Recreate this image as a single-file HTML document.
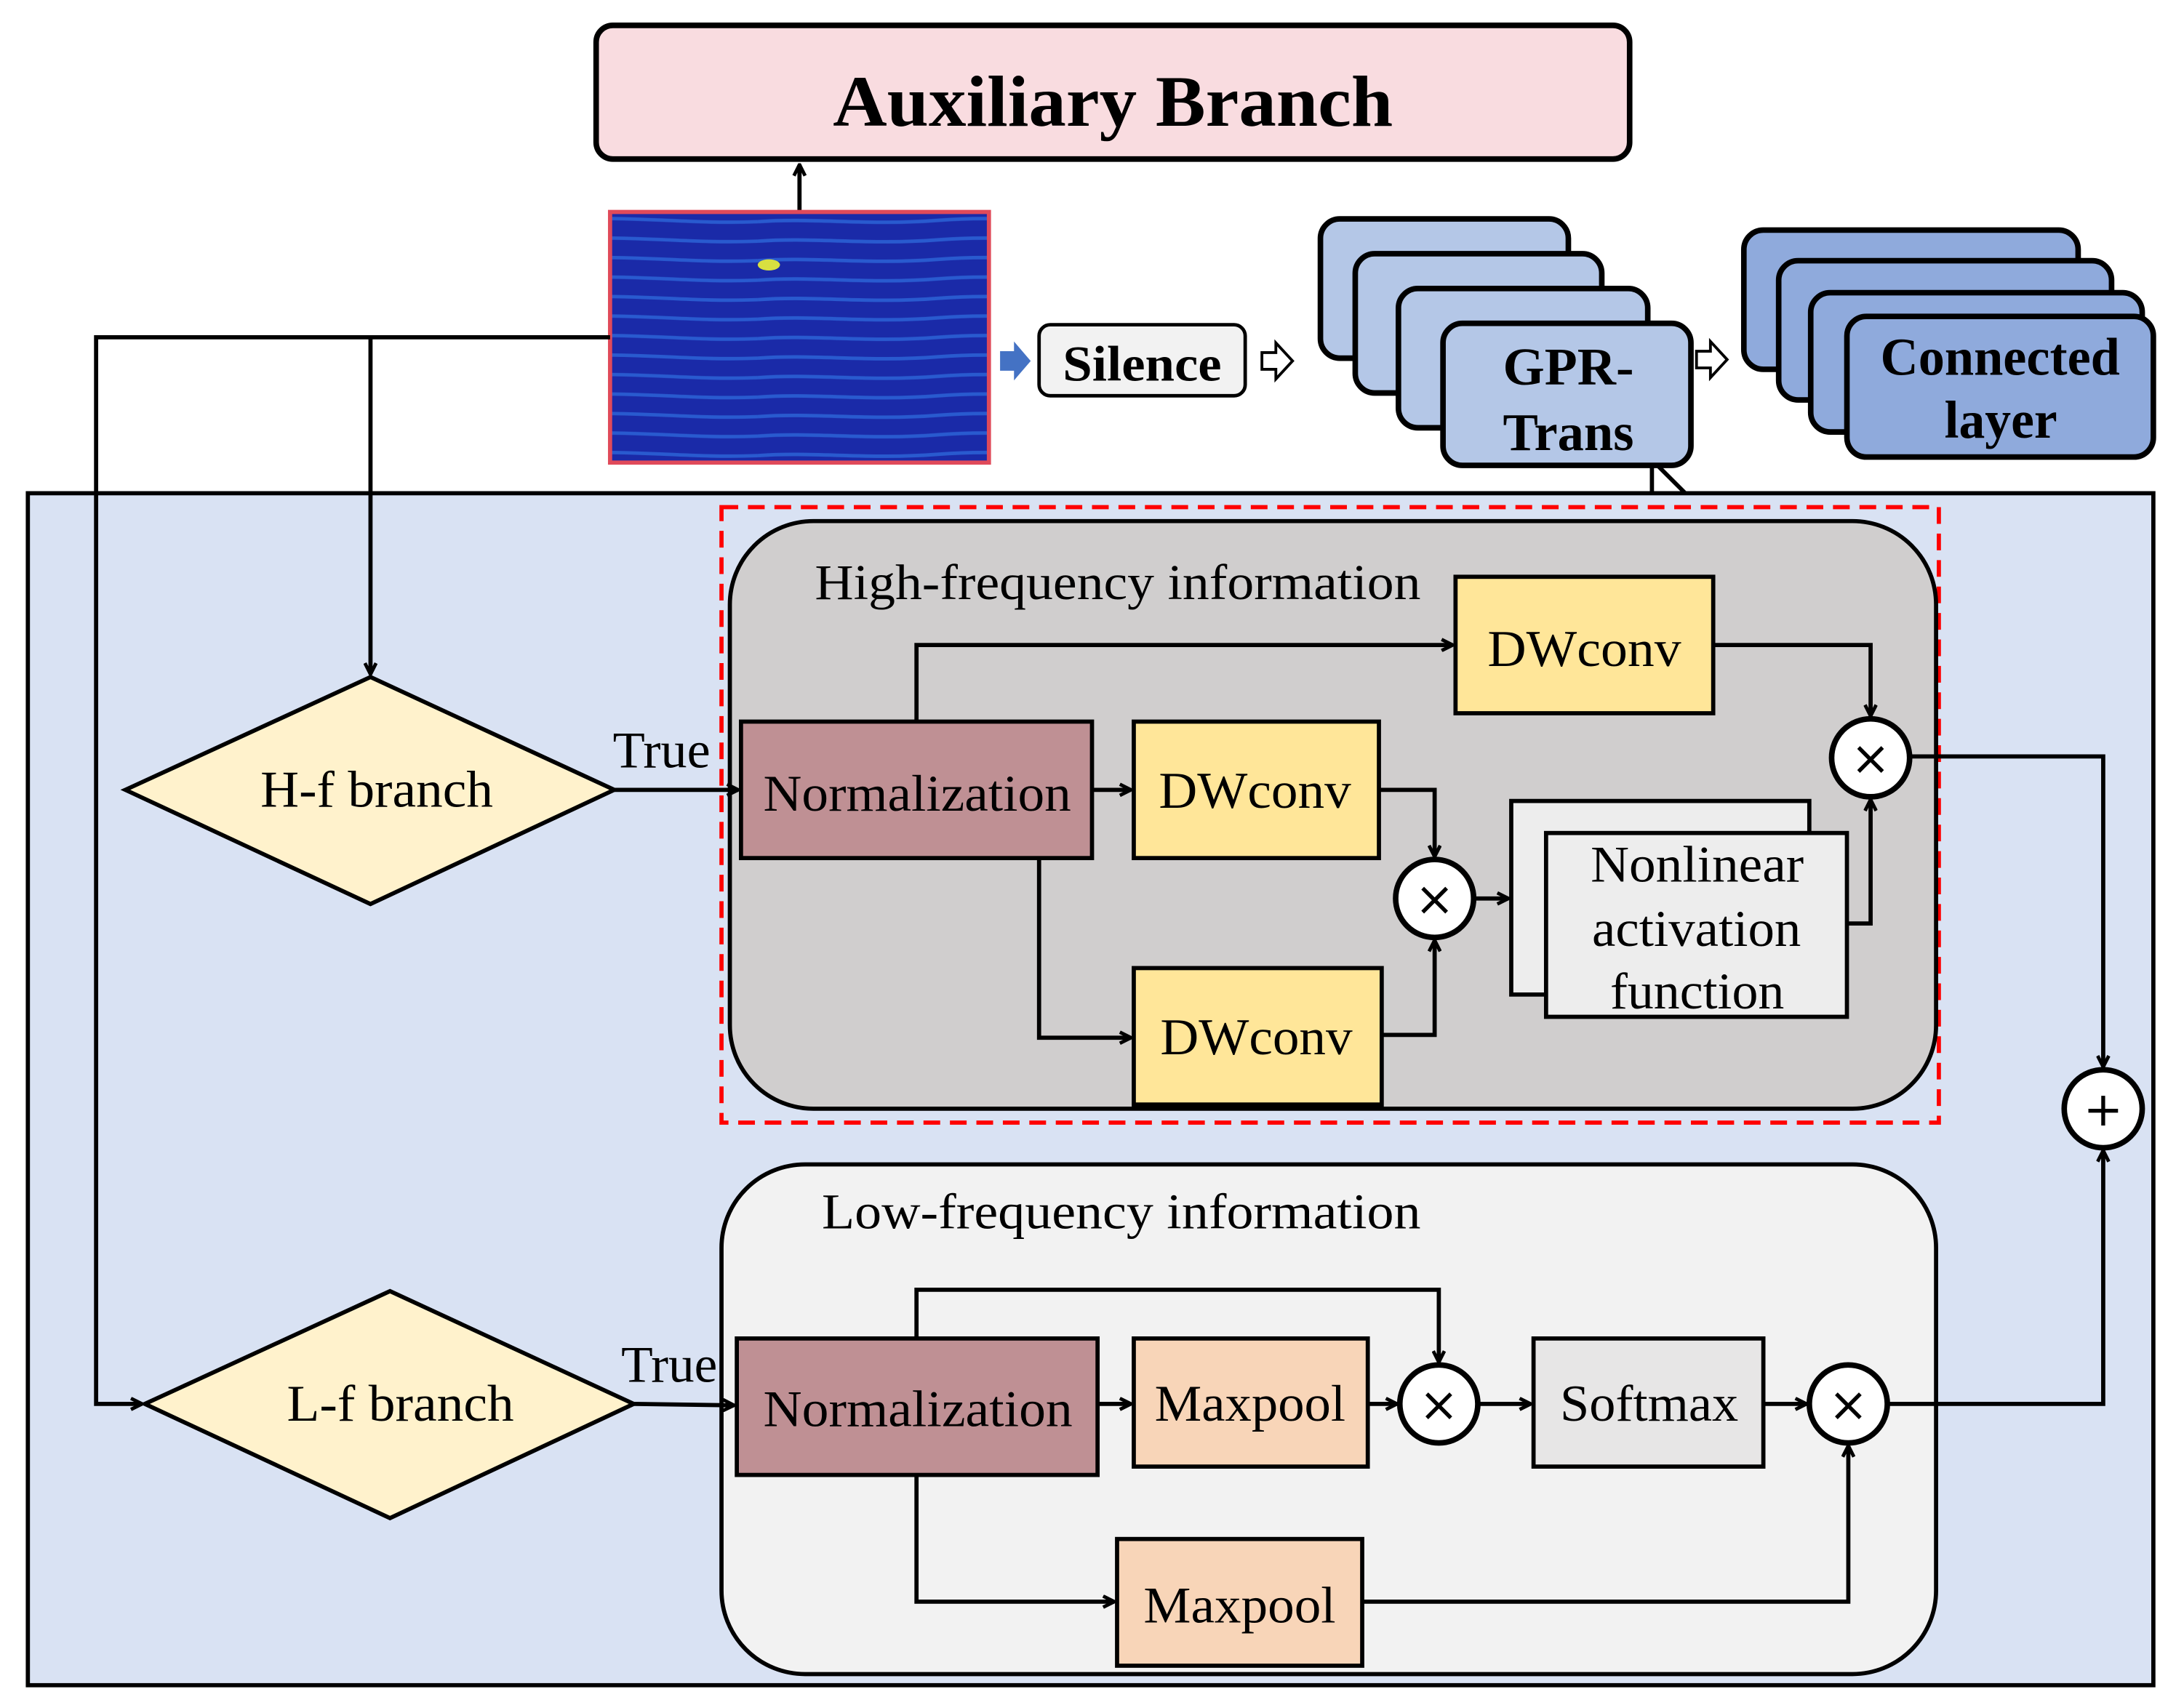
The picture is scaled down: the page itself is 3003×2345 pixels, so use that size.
<!DOCTYPE html>
<html><head><meta charset="utf-8"><style>html,body{margin:0;padding:0;background:#fff}svg{display:block}</style></head>
<body>
<svg xmlns="http://www.w3.org/2000/svg" width="3003" height="2345" viewBox="0 0 1568 1224" font-family="Liberation Serif, serif">
<defs>
<marker id="a" markerWidth="10" markerHeight="10" refX="9" refY="5" orient="auto" markerUnits="userSpaceOnUse"><path d="M1,1 L9,5 L1,9" fill="none" stroke="#000" stroke-width="2.5"/></marker>
<pattern id="st" width="272" height="14" patternUnits="userSpaceOnUse"><rect width="272" height="14" fill="#1a2aa8"/><path d="M0,5 C40,2 80,8 130,4 S220,7 272,5" stroke="#2f6ee0" stroke-width="2.5" fill="none" opacity="0.7"/></pattern>
</defs>
<rect x="20" y="354" width="1526" height="856" fill="#d9e2f3" stroke="#000" stroke-width="3"/>
<line x1="1186" y1="334" x2="1186" y2="354" stroke="#000" stroke-width="3"/>
<line x1="1190" y1="334" x2="1210" y2="354" stroke="#000" stroke-width="3"/>
<rect x="428" y="18" width="742" height="96" rx="12" fill="#f9dce0" stroke="#000" stroke-width="4"/>
<text x="598" y="90" font-size="52" font-weight="bold" textLength="402" lengthAdjust="spacingAndGlyphs">Auxiliary Branch</text>
<line x1="574" y1="152" x2="574" y2="118" stroke="#000" stroke-width="3" marker-end="url(#a)"/>
<rect x="438" y="152" width="272" height="180" fill="url(#st)" stroke="#e04a5a" stroke-width="3"/>
<ellipse cx="552" cy="190" rx="8" ry="4" fill="#d8e040"/>
<polyline points="438,242 69,242 69,1008 102,1008" fill="none" stroke="#000" stroke-width="3" marker-end="url(#a)"/>
<polyline points="266,242 266,484" fill="none" stroke="#000" stroke-width="3" marker-end="url(#a)"/>
<path d="M718,252 h10 v-7 l12,14 l-12,14 v-7 h-10 z" fill="#4472c4"/>
<rect x="746" y="233" width="148" height="51" rx="8" fill="#f2f2f2" stroke="#000" stroke-width="2.5"/>
<text x="763" y="273" font-size="36" font-weight="bold" textLength="114" lengthAdjust="spacingAndGlyphs">Silence</text>
<path d="M906,253 h10 v-7 l12,13 l-12,13 v-7 h-10 z" fill="#fff" stroke="#000" stroke-width="2"/>
<g fill="#b4c7e7" stroke="#000" stroke-width="4">
<rect x="948" y="157" width="178" height="100" rx="14"/>
<rect x="973" y="182" width="177" height="100" rx="14"/>
<rect x="1004" y="207" width="179" height="100" rx="14"/>
<rect x="1036" y="232" width="178" height="102" rx="14"/>
</g>
<text x="1079" y="276" font-size="38" font-weight="bold" textLength="94" lengthAdjust="spacingAndGlyphs">GPR-</text>
<text x="1079" y="323" font-size="38" font-weight="bold" textLength="94" lengthAdjust="spacingAndGlyphs">Trans</text>
<path d="M1218,252 h10 v-7 l12,13 l-12,13 v-7 h-10 z" fill="#fff" stroke="#000" stroke-width="2"/>
<g fill="#8faadc" stroke="#000" stroke-width="4">
<rect x="1252" y="165" width="240" height="100" rx="14"/>
<rect x="1277" y="187" width="239" height="100" rx="14"/>
<rect x="1300" y="210" width="238" height="100" rx="14"/>
<rect x="1326" y="227" width="220" height="101" rx="14"/>
</g>
<text x="1350" y="269" font-size="38" font-weight="bold" textLength="172" lengthAdjust="spacingAndGlyphs">Connected</text>
<text x="1396" y="314" font-size="38" font-weight="bold" textLength="81" lengthAdjust="spacingAndGlyphs">layer</text>
<rect x="518" y="364" width="874" height="442" fill="none" stroke="#f00" stroke-width="3" stroke-dasharray="12,7"/>
<rect x="524" y="374" width="866" height="422" rx="60" fill="#d0cece" stroke="#000" stroke-width="3"/>
<text x="585" y="430" font-size="36" textLength="435" lengthAdjust="spacingAndGlyphs">High-frequency information</text>
<g stroke="#000" stroke-width="3">
<rect x="1045" y="414" width="185" height="98" fill="#ffe699"/>
<rect x="532" y="518" width="252" height="98" fill="#bf9094"/>
<rect x="814" y="518" width="176" height="98" fill="#ffe699"/>
<rect x="814" y="695" width="178" height="98" fill="#ffe699"/>
<rect x="1085" y="575" width="214" height="139" fill="#ededed"/>
<rect x="1110" y="598" width="216" height="132" fill="#ededed"/>
</g>
<g font-size="37" lengthAdjust="spacingAndGlyphs">
<text x="1068" y="478" textLength="139" lengthAdjust="spacingAndGlyphs">DWconv</text>
<text x="548" y="582" textLength="221" lengthAdjust="spacingAndGlyphs">Normalization</text>
<text x="832" y="580" textLength="138" lengthAdjust="spacingAndGlyphs">DWconv</text>
<text x="833" y="757" textLength="138" lengthAdjust="spacingAndGlyphs">DWconv</text>
<text x="1142" y="633" textLength="153" lengthAdjust="spacingAndGlyphs">Nonlinear</text>
<text x="1143" y="679" textLength="150" lengthAdjust="spacingAndGlyphs">activation</text>
<text x="1156" y="724" textLength="125" lengthAdjust="spacingAndGlyphs">function</text>
</g>
<g fill="none" stroke="#000" stroke-width="3" marker-end="url(#a)">
<polyline points="658,518 658,463 1043,463"/>
<polyline points="1230,463 1343,463 1343,514"/>
<polyline points="784,567 812,567"/>
<polyline points="990,567 1030,567 1030,615"/>
<polyline points="746,616 746,745 812,745"/>
<polyline points="992,743 1030,743 1030,675"/>
<polyline points="1058,645 1083,645"/>
<polyline points="1326,663 1343,663 1343,574"/>
<polyline points="1371,543 1510,543 1510,766"/>
</g>
<polygon points="90,567 266,486 441,567 266,649" fill="#fff2cc" stroke="#000" stroke-width="3"/>
<text x="187" y="579" font-size="37" textLength="167" lengthAdjust="spacingAndGlyphs">H-f branch</text>
<text x="440" y="551" font-size="37" textLength="70" lengthAdjust="spacingAndGlyphs">True</text>
<line x1="441" y1="567" x2="530" y2="567" stroke="#000" stroke-width="3" marker-end="url(#a)"/>
<rect x="518" y="836" width="872" height="366" rx="60" fill="#f2f2f2" stroke="#000" stroke-width="3"/>
<text x="590" y="882" font-size="36" textLength="430" lengthAdjust="spacingAndGlyphs">Low-frequency information</text>
<g stroke="#000" stroke-width="3">
<rect x="529" y="961" width="259" height="98" fill="#bf9094"/>
<rect x="814" y="961" width="168" height="92" fill="#f8d5b8"/>
<rect x="1101" y="961" width="165" height="92" fill="#e7e6e6"/>
<rect x="802" y="1105" width="176" height="91" fill="#f8d5b8"/>
</g>
<g font-size="37">
<text x="548" y="1024" textLength="222" lengthAdjust="spacingAndGlyphs">Normalization</text>
<text x="829" y="1020" textLength="137" lengthAdjust="spacingAndGlyphs">Maxpool</text>
<text x="1120" y="1020" textLength="128" lengthAdjust="spacingAndGlyphs">Softmax</text>
<text x="821" y="1165" textLength="138" lengthAdjust="spacingAndGlyphs">Maxpool</text>
</g>
<g fill="none" stroke="#000" stroke-width="3" marker-end="url(#a)">
<polyline points="658,961 658,926 1033,926 1033,978"/>
<polyline points="788,1008 812,1008"/>
<polyline points="982,1008 1003,1008"/>
<polyline points="1061,1008 1099,1008"/>
<polyline points="1266,1008 1297,1008"/>
<polyline points="1355,1008 1510,1008 1510,826"/>
<polyline points="658,1059 658,1150 800,1150"/>
<polyline points="978,1150 1327,1150 1327,1038"/>
</g>
<polygon points="104,1008 280,927 455,1008 280,1090" fill="#fff2cc" stroke="#000" stroke-width="3"/>
<text x="206" y="1020" font-size="37" textLength="163" lengthAdjust="spacingAndGlyphs">L-f branch</text>
<text x="446" y="992" font-size="37" textLength="69" lengthAdjust="spacingAndGlyphs">True</text>
<line x1="455" y1="1008" x2="527" y2="1009" stroke="#000" stroke-width="3" marker-end="url(#a)"/>
<g fill="#fff" stroke="#000" stroke-width="4">
<circle cx="1030" cy="645" r="28"/><circle cx="1343" cy="544" r="28"/><circle cx="1510" cy="796" r="28"/>
<circle cx="1033" cy="1008" r="28"/><circle cx="1327" cy="1008" r="28"/>
</g>
<g font-size="34" text-anchor="middle" font-family="DejaVu Sans, sans-serif">
<text x="1030" y="657">×</text><text x="1343" y="556">×</text><text x="1510" y="808">+</text>
<text x="1033" y="1020">×</text><text x="1327" y="1020">×</text>
</g>
</svg>
</body></html>
